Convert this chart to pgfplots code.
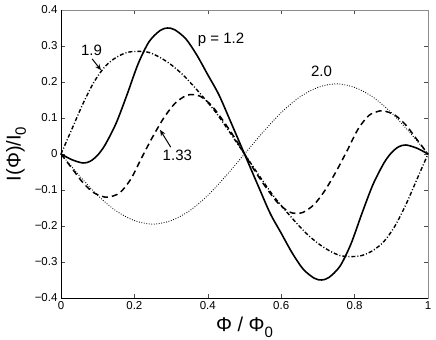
\documentclass[border=0pt]{standalone}
\usepackage{fontspec}
\setmainfont{Liberation Sans}
\usepackage{pgfplots}
\pgfplotsset{compat=1.18}
\usetikzlibrary{arrows.meta}

\newcommand{\sub}[1]{\raisebox{-0.5ex}{\fontsize{15bp}{15bp}\selectfont #1}}

\begin{document}
\begin{tikzpicture}
\begin{axis}[
    width=367bp, height=288bp,
    scale only axis,
    xmin=0, xmax=1,
    ymin=-0.4, ymax=0.4,
    xtick={0,0.2,0.4,0.6,0.8,1},
    xticklabels={0,0.2,0.4,0.6,0.8,1},
    ytick={-0.4,-0.3,-0.2,-0.1,0,0.1,0.2,0.3,0.4},
    yticklabels={−0.4,−0.3,−0.2,−0.1,0,0.1,0.2,0.3,0.4},
    tick align=inside,
    major tick length=4bp,
    tick style={black!70, line width=0.5bp},
    axis line style={black!45, line width=0.8bp},
    ticklabel style={font=\fontsize{11.5bp}{13bp}\selectfont},
    every axis x label/.style={at={([yshift=-34bp]axis description cs:0.5,0)}, anchor=base},
    every axis y label/.style={at={([xshift=-45bp]axis description cs:0,0.5)}, rotate=90, anchor=center},
    label style={font=\fontsize{20bp}{22bp}\selectfont},
    xlabel={Φ / Φ\sub{0}},
    ylabel={I(Φ)/I\sub{0}},
    clip=false,
]

% p = 1.2
\addplot[black, line width=1.6bp, smooth] coordinates {
(0,0)(0.03,-0.016)(0.06,-0.025)(0.08,-0.02)(0.10,-0.003)(0.12,0.025)
(0.15,0.085)(0.18,0.165)(0.21,0.25)(0.24,0.312)(0.27,0.343)(0.29,0.35)
(0.31,0.345)(0.34,0.32)(0.37,0.275)(0.40,0.22)(0.43,0.165)(0.46,0.095)(0.50,0)
(0.54,-0.095)(0.57,-0.165)(0.60,-0.22)(0.63,-0.275)(0.66,-0.32)(0.69,-0.345)
(0.71,-0.35)(0.73,-0.343)(0.76,-0.312)(0.79,-0.25)(0.82,-0.165)(0.85,-0.085)
(0.88,-0.025)(0.90,0.003)(0.92,0.02)(0.94,0.025)(0.97,0.016)(1,0)
};

% p = 1.33
\addplot[black, line width=1.5bp, dash pattern=on 6bp off 4bp, smooth] coordinates {
(0,0)(0.03,-0.04)(0.06,-0.08)(0.09,-0.108)(0.12,-0.12)(0.13,-0.12)
(0.16,-0.108)(0.19,-0.07)(0.22,-0.01)(0.25,0.048)(0.28,0.10)(0.31,0.14)
(0.34,0.162)(0.36,0.165)(0.38,0.16)(0.41,0.135)(0.44,0.095)(0.47,0.05)(0.50,0)
(0.53,-0.05)(0.56,-0.095)(0.59,-0.135)(0.62,-0.16)(0.64,-0.165)(0.66,-0.162)
(0.69,-0.14)(0.72,-0.10)(0.75,-0.048)(0.78,0.01)(0.81,0.07)(0.84,0.108)
(0.87,0.12)(0.88,0.12)(0.91,0.108)(0.94,0.08)(0.97,0.04)(1,0)
};

% p = 1.9
\addplot[black, line width=1.4bp, dash pattern=on 4bp off 2bp on 1bp off 2bp, smooth] coordinates {
(0,0)(0.03,0.07)(0.06,0.14)(0.09,0.2)(0.12,0.243)(0.15,0.268)(0.18,0.282)
(0.21,0.285)(0.24,0.282)(0.27,0.268)(0.30,0.248)(0.33,0.222)(0.36,0.19)
(0.39,0.155)(0.42,0.118)(0.45,0.075)(0.48,0.03)(0.50,0)
(0.52,-0.03)(0.55,-0.075)(0.58,-0.118)(0.61,-0.155)(0.64,-0.19)(0.67,-0.222)
(0.70,-0.248)(0.73,-0.268)(0.76,-0.282)(0.79,-0.285)(0.82,-0.282)(0.85,-0.268)
(0.88,-0.243)(0.91,-0.2)(0.94,-0.14)(0.97,-0.07)(1,0)
};

% p = 2.0
\addplot[black, line width=0.9bp, dash pattern=on 0.8bp off 1.7bp, smooth] coordinates {
(0,0)(0.05,-0.060)(0.10,-0.115)(0.15,-0.158)(0.20,-0.185)(0.25,-0.195)
(0.30,-0.185)(0.35,-0.158)(0.40,-0.115)(0.45,-0.060)(0.50,0)
(0.55,0.060)(0.60,0.115)(0.65,0.158)(0.70,0.185)(0.75,0.195)
(0.80,0.185)(0.85,0.158)(0.90,0.115)(0.95,0.060)(1,0)
};

% left and bottom axis lines in black
\draw[black, line width=0.8bp] (rel axis cs:0,1) -- (rel axis cs:0,0) -- (rel axis cs:1,0);

\node[font=\fontsize{15bp}{17bp}\selectfont] at (axis cs:0.436,0.317) {p = 1.2};
\node[font=\fontsize{15bp}{17bp}\selectfont] at (axis cs:0.71,0.23) {2.0};
\node[font=\fontsize{15bp}{17bp}\selectfont] at (axis cs:0.083,0.289) {1.9};
\node[font=\fontsize{15bp}{17bp}\selectfont] at (axis cs:0.317,-0.003) {1.33};
\draw[black, line width=1bp, -{Stealth[length=6bp,width=5bp]}] (axis cs:0.085,0.264) -- (axis cs:0.109,0.233);
\draw[black, line width=1bp, -{Stealth[length=6bp,width=5bp]}] (axis cs:0.299,0.019) -- (axis cs:0.27,0.067);
\end{axis}
\pgfresetboundingbox
\path ([shift={(-61bp,-42bp)}]current axis.south west) rectangle ([shift={(8bp,10bp)}]current axis.north east);
\end{tikzpicture}
\end{document}
